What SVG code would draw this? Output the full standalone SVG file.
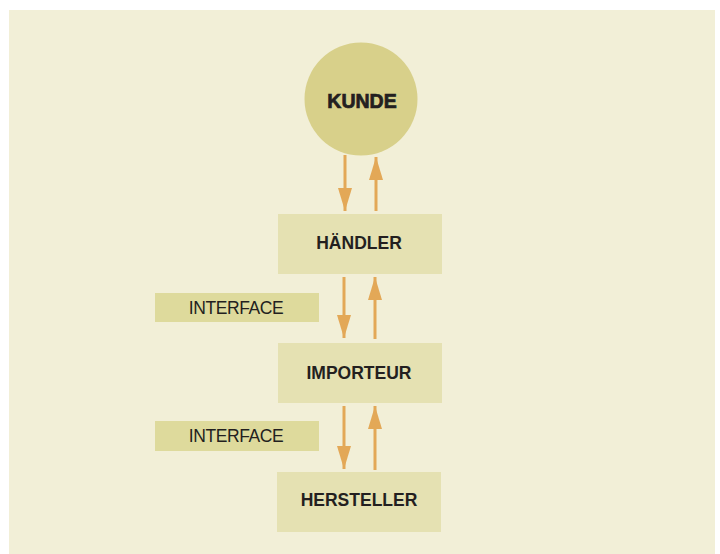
<svg xmlns="http://www.w3.org/2000/svg" width="720" height="554" viewBox="0 0 720 554">
  <defs>
    <marker id="ah" viewBox="0 0 23 14" refX="23" refY="7" markerWidth="23" markerHeight="14" markerUnits="userSpaceOnUse" orient="auto">
      <path d="M0,0 L23,7 L0,14 z" fill="#E3A857"/>
    </marker>
    <style>
      .box { fill: #E5E1B2; }
      .ibox { fill: #DEDA9C; }
      .lbl { font-family: "Liberation Sans", Arial, sans-serif; font-size: 17.5px; font-weight: bold; fill: #231F20; text-anchor: middle; }
      .ilbl { font-family: "Liberation Sans", Arial, sans-serif; font-size: 17.5px; letter-spacing: -0.4px; fill: #231F20; text-anchor: middle; }
      .conn line { stroke: #E3A857; stroke-width: 3; marker-end: url(#ah); }
    </style>
  </defs>
  <rect x="0" y="0" width="720" height="554" fill="#FFFFFF"/>
  <rect x="9" y="10" width="706" height="544" fill="#F2EFD7"/>

  <g id="kunde">
    <circle cx="361" cy="99" r="56.5" fill="#D8D08A"/>
    <text x="362" y="107.5" font-family="'Liberation Sans', Arial, sans-serif" font-size="19.5" font-weight="bold" fill="#231F20" stroke="#231F20" stroke-width="0.7" text-anchor="middle">KUNDE</text>
  </g>

  <g id="haendler">
    <rect class="box" x="278" y="214" width="164" height="60"/>
    <text class="lbl" x="359" y="249">HÄNDLER</text>
  </g>

  <g id="interface1">
    <rect class="ibox" x="155" y="293" width="164" height="29"/>
    <text class="ilbl" x="236" y="313.5">INTERFACE</text>
  </g>

  <g id="importeur">
    <rect class="box" x="278" y="343" width="164" height="60"/>
    <text class="lbl" x="359" y="378.5">IMPORTEUR</text>
  </g>

  <g id="interface2">
    <rect class="ibox" x="155" y="421" width="164" height="30"/>
    <text class="ilbl" x="236" y="441.5">INTERFACE</text>
  </g>

  <g id="hersteller">
    <rect class="box" x="277" y="472" width="164" height="60"/>
    <text class="lbl" x="359" y="506">HERSTELLER</text>
  </g>

  <g id="connectors" class="conn">
    <line x1="345" y1="155" x2="345" y2="211"/>
    <line x1="376" y1="211" x2="376" y2="157"/>
    <line x1="344" y1="277" x2="344" y2="338"/>
    <line x1="375" y1="339" x2="375" y2="277"/>
    <line x1="344" y1="406" x2="344" y2="469"/>
    <line x1="375" y1="470" x2="375" y2="406"/>
  </g>
</svg>
